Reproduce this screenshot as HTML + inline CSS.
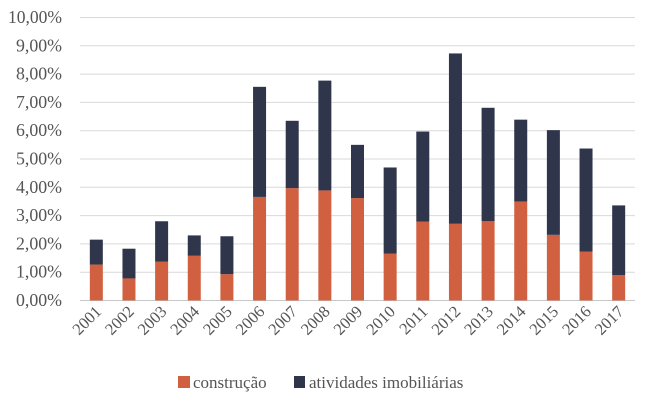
<!DOCTYPE html>
<html><head><meta charset="utf-8"><style>
body{margin:0;background:#fff;}
svg{display:block;font-family:"Liberation Serif",serif;}
</style></head><body>
<div style="position:relative;width:653px;height:401px;">
<svg id="chart" width="653" height="401" style="position:absolute;left:0;top:0"></svg>
<svg width="653" height="401" style="position:absolute;left:0;top:0;pointer-events:none">
<g>
<rect x="178" y="376" width="12" height="12" fill="#d0603f"/>
<text x="193" y="388" font-size="17" fill="#555" font-family="Liberation Serif, serif">construção</text>
<rect x="294" y="376" width="11" height="12" fill="#2f354a"/>
<text x="309" y="388" font-size="17" fill="#555" font-family="Liberation Serif, serif">atividades imobiliárias</text>
</g>
</svg>
</div>
<script>
const years=["2001","2002","2003","2004","2005","2006","2007","2008","2009","2010","2011","2012","2013","2014","2015","2016","2017"];
const construcao=[1.27,0.78,1.37,1.58,0.93,3.66,3.97,3.89,3.62,1.66,2.79,2.71,2.80,3.50,2.32,1.73,0.90];
const imobiliarias=[0.88,1.05,1.43,0.72,1.34,3.89,2.38,3.88,1.88,3.04,3.18,6.02,4.01,2.89,3.70,3.64,2.46];
const yTicks=[0,1,2,3,4,5,6,7,8,9,10];
const yTickLabels=["0,00%","1,00%","2,00%","3,00%","4,00%","5,00%","6,00%","7,00%","8,00%","9,00%","10,00%"];
const NS="http://www.w3.org/2000/svg";
const svg=document.getElementById("chart");
const L=80,R=635,T=17.5,B=300.5;
const y=v=>B-(v/10)*(B-T);
const band=(R-L)/years.length;
const x=i=>L+band*(i+0.5);
const bw=13;
function mk(tag,attrs,parent){const e=document.createElementNS(NS,tag);for(const k in attrs)e.setAttribute(k,attrs[k]);(parent||svg).appendChild(e);return e;}
yTicks.forEach((t,i)=>{
  const g=mk("line",{x1:L,x2:R,y1:y(t),y2:y(t),stroke:t===0?"#c8c8c8":"#d9d9d9","stroke-width":1});
  
  
  const tx=mk("text",{x:62,y:y(t)+5.5,"text-anchor":"end","font-size":17.5,fill:"#555",textLength:t===10?54:46,lengthAdjust:"spacingAndGlyphs"});
  tx.textContent=yTickLabels[i];
  
  
});
years.forEach((yr,i)=>{
  const c=construcao[i],a=imobiliarias[i];
  const r1=mk("rect",{x:x(i)-bw/2,y:y(c),width:bw,height:B-y(c),fill:"#d0603f"});
  
  
  const r2=mk("rect",{x:x(i)-bw/2,y:y(c+a),width:bw,height:y(c)-y(c+a),fill:"#2f354a"});
  
  
  const tx=mk("text",{x:0,y:0,"text-anchor":"end","font-size":16.5,fill:"#555",transform:`translate(${x(i)+6},${B+12}) rotate(-45)`});
  tx.textContent=yr;
  
  
});
</script>
</body></html>
